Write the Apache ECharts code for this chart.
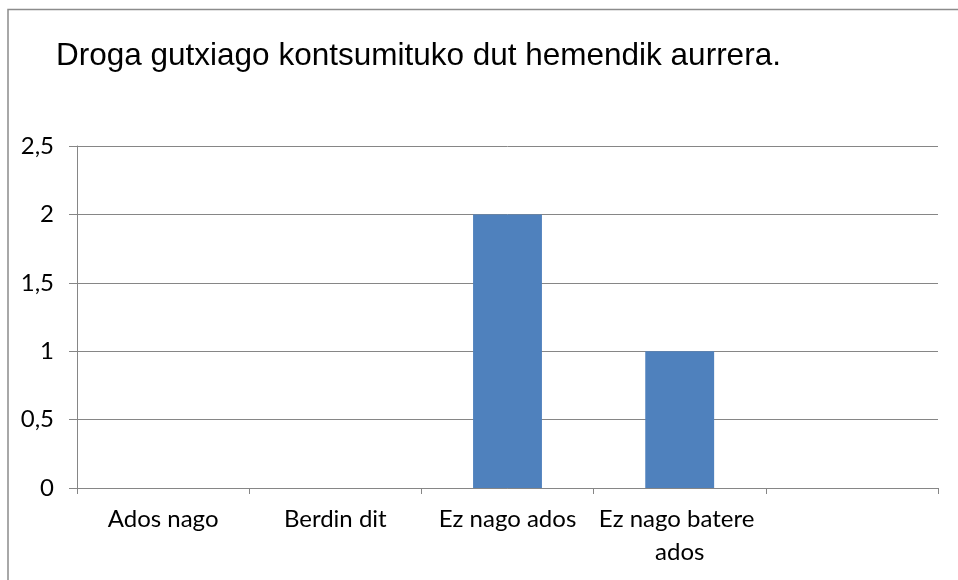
<!DOCTYPE html>
<html>
<head>
<meta charset="utf-8">
<script src="https://cdn.jsdelivr.net/npm/echarts@6/dist/echarts.min.js"></script>
<style>
  html, body { margin: 0; padding: 0; background: #fff; }
  #chart { width: 958px; height: 580px; }
</style>
</head>
<body>
<div id="chart"></div>
<script>
const titleText = 'Droga gutxiago kontsumituko dut hemendik aurrera.'
const categories = ['Ados nago', 'Berdin dit', 'Ez nago ados', 'Ez nago batere ados', '']
const values = [0, 0, 2, 1, 0]
const yMin = 0
const yMax = 2.5
const yStep = 0.5

const chart = echarts.init(document.getElementById('chart'))
const labelFont = 'Lato'
const gridColor = '#868686'

const option = {
  animation: false,
  title: {
    text: titleText,
    left: 51,
    top: 35,
    textStyle: {
      fontFamily: 'Liberation Sans',
      fontSize: 31.5,
      fontWeight: 'normal',
      color: '#000'
    }
  },
  graphic: [{
    type: 'rect',
    shape: { x: 8, y: 9.5, width: 1000, height: 1000 },
    style: { fill: 'none', stroke: '#8c8c8c', lineWidth: 1.5 },
    silent: true
  }],
  grid: { left: 77, right: 20, top: 146, bottom: 92 },
  xAxis: {
    type: 'category',
    data: categories,
    axisLine: { lineStyle: { color: gridColor, width: 1 } },
    axisTick: { show: true, length: 6, lineStyle: { color: gridColor } },
    axisLabel: {
      interval: 0,
      margin: 15,
      fontFamily: labelFont,
      fontSize: 24,
      color: '#000',
      lineHeight: 33,
      width: 170,
      overflow: 'break'
    }
  },
  yAxis: {
    type: 'value',
    min: yMin,
    max: yMax,
    interval: yStep,
    axisLine: { show: true, lineStyle: { color: gridColor } },
    axisTick: { show: true, length: 8, lineStyle: { color: gridColor } },
    splitLine: { lineStyle: { color: gridColor } },
    axisLabel: {
      margin: 23,
      fontFamily: labelFont,
      fontSize: 24,
      color: '#000',
      formatter: v => String(v).replace('.', ',')
    }
  },
  series: [{
    type: 'bar',
    data: values,
    barWidth: '40%',
    itemStyle: { color: '#4f81bd' }
  }]
}
chart.setOption(option)
</script>
</body>
</html>
